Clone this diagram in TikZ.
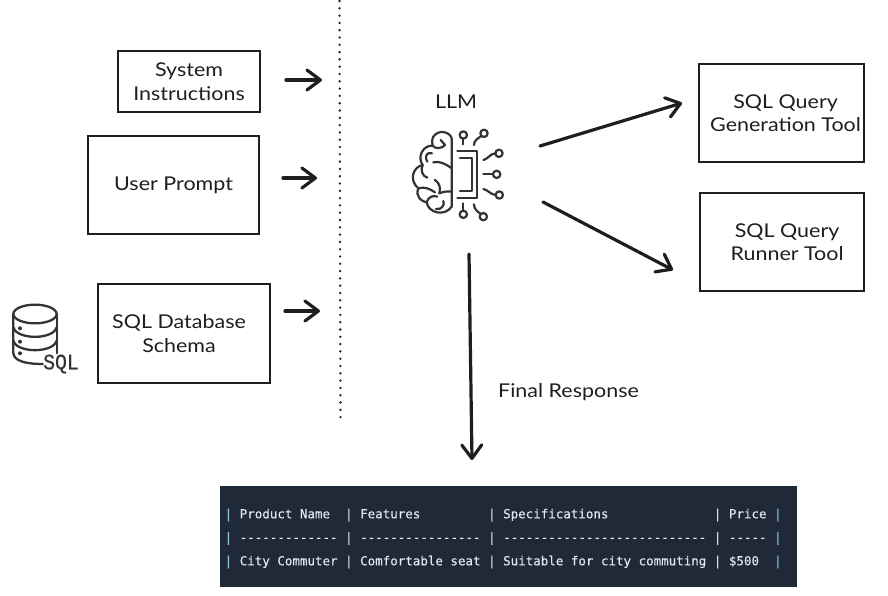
\documentclass[tikz,border=0pt]{standalone}
\usepackage{fontspec}
\setmainfont[FakeStretch=1.13]{Lato}
\newfontfamily\tblfont[FakeBold=0.25]{DejaVu Sans Mono}
\newfontfamily\sqlfont[FakeStretch=0.9,FakeBold=0.6]{Liberation Mono}
\usetikzlibrary{arrows.meta}
\definecolor{ink}{HTML}{1E1E1E}
\definecolor{panel}{HTML}{1F2937}
\definecolor{cell}{HTML}{E2E7EE}
\definecolor{pipeA}{HTML}{8CC4E0}
\definecolor{pipeB}{HTML}{6AD4FA}
\definecolor{icon}{HTML}{333333}
\newcommand{\pipeL}{\textcolor{pipeA}{|}}
\newcommand{\pipeM}{\textcolor{cell!85!pipeA}{|}}
\newcommand{\pipeR}{\textcolor{pipeB}{|}}
\tikzset{
  box/.style={draw=ink,line width=2.1pt,inner sep=0pt,align=center,font=\fontsize{19}{23.5}\selectfont,text=ink},
  lbl/.style={text=ink,font=\fontsize{19}{23}\selectfont,inner sep=0pt},
  flow/.style={draw=ink,line width=3.2pt,line cap=round,-{Straight Barb[length=13.5pt,width=20pt,line width=3.2pt,round]}},
  sep/.style={draw=ink,line width=2.6pt,line cap=round,dash pattern=on 0pt off 7.3pt},
  row/.style={anchor=west,inner sep=0pt,text=cell,font=\tblfont\fontsize{12.5}{15}\selectfont},
  iconline/.style={draw=icon,line width=2.2pt,line cap=round,line join=round},
}
\newcommand{\rectbox}[6]{\node[box,minimum width=#4,minimum height=#5,anchor=north west] (#1) at (#2,#3) {#6};}
\begin{document}
\begin{tikzpicture}[x=1pt,y=-1pt]
\useasboundingbox (0,0) rectangle (888,595);
% separator
\coordinate (septop) at (339.5,1);
\coordinate (sepbot) at (340.5,420);
\draw[sep] (septop) -- (sepbot);
% input boxes
\rectbox{sys}{117}{50}{142pt}{61pt}{System\\Instructions}
\rectbox{user}{87}{135}{171pt}{98pt}{User Prompt}
\rectbox{schema}{97}{283}{172pt}{99pt}{SQL Database\hspace*{10pt}\\Schema\hspace*{10pt}}
% tool boxes
\rectbox{gen}{698}{63}{165pt}{98pt}{\hspace*{8pt}SQL Query\\\hspace*{8pt}Generation Tool}
\rectbox{run}{699}{192}{164pt}{98pt}{\hspace*{10pt}SQL Query\\\hspace*{10pt}Runner Tool}
% LLM
\node[lbl] (llm) at (456,102) {LLM};
\node[lbl,anchor=west] (final) at (498,392) {Final Response};
% arrows
\coordinate (a1s) at (286,80); \coordinate (a1e) at (322,80);
\coordinate (a2s) at (283,178); \coordinate (a2e) at (317,178);
\coordinate (a3s) at (285,311); \coordinate (a3e) at (320,311);
\coordinate (a4s) at (540,146); \coordinate (a4e) at (682,103);
\coordinate (a5s) at (543,202); \coordinate (a5e) at (673,270);
\coordinate (a6s) at (469,254); \coordinate (a6e) at (472,460);
\foreach \s/\e in {a1s/a1e,a2s/a2e,a3s/a3e,a4s/a4e,a5s/a5e,a6s/a6e}
  \draw[flow] (\s) -- (\e);
% brain icon
\begin{scope}[shift={(400,85)},x=0.3333pt,y=-0.3333pt]
  \draw[iconline] (155,160) .. controls (150,140) and (115,132) .. (100,155)
    .. controls (95,165) and (96,175) .. (98,182)
    .. controls (70,180) and (50,215) .. (68,240)
    .. controls (40,245) and (25,285) .. (55,310)
    .. controls (45,335) and (65,350) .. (80,352)
    .. controls (85,385) and (135,395) .. (155,365) -- cycle;
  \draw[iconline] (98,182) .. controls (105,192) and (125,192) .. (135,180);
  \draw[iconline] (122,165) -- (135,180);
  \draw[iconline] (82,230) .. controls (72,212) and (82,200) .. (96,205);
  \draw[iconline] (100,232) .. controls (118,228) and (135,235) .. (155,250);
  \draw[iconline] (68,240) .. controls (60,255) and (68,275) .. (82,278);
  \draw[iconline] (55,310) .. controls (72,305) and (88,310) .. (105,322);
  \draw[iconline] (105,285) .. controls (120,295) and (122,310) .. (118,325);
  \draw[iconline] (118,325) .. controls (130,320) and (145,318) .. (155,320);
  \draw[iconline] (80,352) .. controls (85,335) and (100,330) .. (112,335);
  \draw[iconline] (108,372) .. controls (125,375) and (135,360) .. (130,348);
  % chip
  \draw[iconline] (172,198) -- (232,198) -- (232,340) -- (172,340);
  \draw[iconline] (180,220) -- (215,220) -- (215,318) -- (180,318);
  % pins
  \draw[iconline] (190,150) circle (11);
  \draw[iconline] (190,161) -- (190,178);
  \draw[iconline] (252,145) circle (11);
  \draw[iconline] (222,180) .. controls (222,165) and (235,160) .. (244,153);
  \draw[iconline] (297,205) circle (11);
  \draw[iconline] (250,225) .. controls (265,222) and (268,207) .. (286,205);
  \draw[iconline] (290,268) circle (11);
  \draw[iconline] (250,268) -- (279,268);
  \draw[iconline] (298,330) circle (11);
  \draw[iconline] (250,312) .. controls (265,315) and (270,328) .. (287,330);
  \draw[iconline] (190,388) circle (11);
  \draw[iconline] (190,355) -- (190,377);
  \draw[iconline] (250,395) circle (11);
  \draw[iconline] (222,358) .. controls (222,372) and (232,380) .. (243,387);
\end{scope}
% database icon
\begin{scope}[shift={(0,290)},x=0.3333pt,y=-0.3333pt,iconline/.append style={line width=2.3pt}]
  \draw[iconline] (105,72) ellipse [x radius=65,y radius=28];
  \draw[iconline] (40,72) -- (40,190) .. controls (42,212) and (75,222) .. (128,222);
  \draw[iconline] (170,72) -- (170,190);
  \draw[iconline] (40,112) .. controls (50,150) and (160,150) .. (170,112);
  \draw[iconline] (40,152) .. controls (50,190) and (160,190) .. (170,152);
  \fill[icon] (60,115) circle (6);
  \fill[icon] (60,155) circle (6);
  \fill[icon] (60,190) circle (6);
\end{scope}
\node[inner sep=0pt,text=icon,font=\sqlfont\fontsize{22}{22}\selectfont] (sqlmark) at (61,364) {SQL};
% table
\node[fill=panel,minimum width=577pt,minimum height=101pt,anchor=north west,inner sep=0pt] (panel) at (220,486) {};
\node[row] (r1) at (224.5,515) {\pipeL{} Product Name\ \ \pipeM{} Features\ \ \ \ \ \ \ \ \ \pipeM{} Specifications\ \ \ \ \ \ \ \ \ \ \ \ \ \ \pipeM{} Price \pipeR};
\node[row] (r2) at (224.5,538.5) {\pipeL{} ------------- \pipeM{} ---------------- \pipeM{} --------------------------- \pipeM{} ----- \pipeR};
\node[row] (r3) at (224.5,562) {\pipeL{} City Commuter \pipeM{} Comfortable seat \pipeM{} Suitable for city commuting \pipeM{} \$500\ \ \pipeR};
\end{tikzpicture}
\end{document}
